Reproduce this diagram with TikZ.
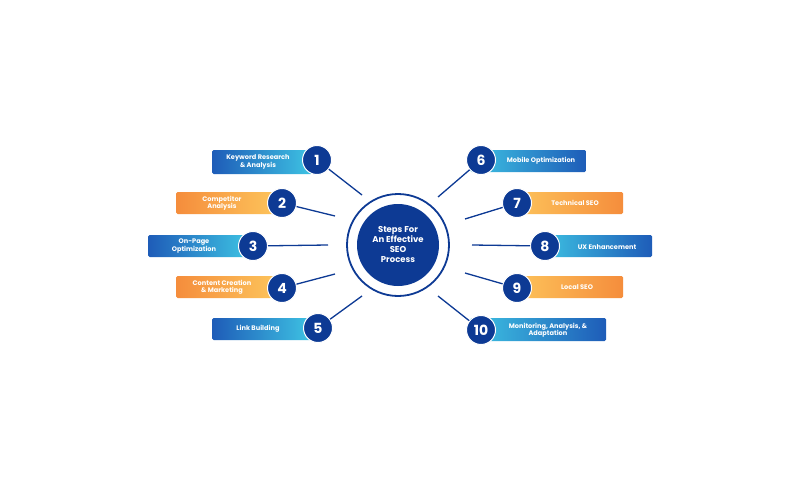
\documentclass[tikz,border=0pt]{standalone}
\usepackage{fontspec}
\setmainfont{Poppins}
\begin{document}
\begin{tikzpicture}[x=1pt,y=-1pt,
  bar/.style={rounded corners=1.5pt,inner sep=0pt,text=white,font=\bfseries\fontsize{6.6}{7.2}\selectfont,align=center},
  blueL/.style={bar,left color=blueD,right color=blueC},
  blueR/.style={bar,left color=blueC,right color=blueD},
  orL/.style={bar,left color=orD,right color=orC},
  orR/.style={bar,left color=orC,right color=orD},
  num/.style={circle,fill=navy,draw=white,line width=1pt,minimum size=29pt,inner sep=0pt,text=white,font=\bfseries\fontsize{14}{14}\selectfont},
  conn/.style={draw=navy,line width=1.3pt}]
\definecolor{navy}{HTML}{0D3A94}
\definecolor{blueD}{HTML}{1E5CB8}
\definecolor{blueC}{HTML}{3EC3E3}
\definecolor{orD}{HTML}{F58D3C}
\definecolor{orC}{HTML}{FDC65C}
\fill[white] (0,0) rectangle (800,500);
% center
\draw[navy,line width=1.8pt] (398,245) circle (51);
\node[circle,fill=navy,minimum size=82pt,inner sep=0pt,text=white,align=center,font=\bfseries\fontsize{8.5}{10}\selectfont] (c) at (398,245) {Steps For\\An Effective\\SEO\\Process};
% bars
\path[blueL] (212,150) rectangle (312,174); \node[text=white,font=\bfseries\fontsize{6.6}{7.2}\selectfont,align=center] (t1) at (258,162) {Keyword Research\\\& Analysis};
\path[orL] (176,192) rectangle (280,214); \node[text=white,font=\bfseries\fontsize{6.6}{7.2}\selectfont,align=center] (t2) at (222,203) {Competitor\\Analysis};
\path[blueL] (148,235) rectangle (250,257); \node[text=white,font=\bfseries\fontsize{6.6}{7.2}\selectfont,align=center] (t3) at (194,246) {On-Page\\Optimization};
\path[orL] (176,276) rectangle (280,298); \node[text=white,font=\bfseries\fontsize{6.6}{7.2}\selectfont,align=center] (t4) at (222,287) {Content Creation\\\& Marketing};
\path[blueL] (212,318) rectangle (312,340); \node[text=white,font=\bfseries\fontsize{6.6}{7.2}\selectfont,align=center] (t5) at (258,329) {Link Building};
\path[blueR] (470,150) rectangle (586,172); \node[text=white,font=\bfseries\fontsize{6.6}{7.2}\selectfont,align=center] (t6) at (541,161) {Mobile Optimization};
\path[orR] (510,192) rectangle (623,214); \node[text=white,font=\bfseries\fontsize{6.6}{7.2}\selectfont,align=center] (t7) at (575,203) {Technical SEO};
\path[blueR] (540,235) rectangle (652,257); \node[text=white,font=\bfseries\fontsize{6.6}{7.2}\selectfont,align=center] (t8) at (607,247) {UX Enhancement};
\path[orR] (510,276) rectangle (623,298); \node[text=white,font=\bfseries\fontsize{6.6}{7.2}\selectfont,align=center] (t9) at (577,287) {Local SEO};
\path[blueR] (470,318) rectangle (606,341); \node[text=white,font=\bfseries\fontsize{6.6}{7.2}\selectfont,align=center] (t10) at (548,330) {Monitoring, Analysis, \&\\Adaptation};
% end coordinates
\coordinate (e1) at (362,195); \coordinate (e2) at (335,216); \coordinate (e3) at (328,245);
\coordinate (e4) at (335,274); \coordinate (e5) at (362,296);
\coordinate (e6) at (438,197); \coordinate (e7) at (465,219); \coordinate (e8) at (472,245);
\coordinate (e9) at (465,273); \coordinate (e10) at (438,296);
% numbers
\node[num] (n1) at (317,160) {1};
\node[num] (n2) at (282,203) {2};
\node[num] (n3) at (253,246) {3};
\node[num] (n4) at (282,288) {4};
\node[num] (n5) at (318,328) {5};
\node[num] (n6) at (481,160) {6};
\node[num] (n7) at (517,203) {7};
\node[num] (n8) at (545,246) {8};
\node[num] (n9) at (517,288) {9};
\node[num] (n10) at (481,330) {10};
\foreach \i in {1,...,10} {\draw[conn] (n\i) -- (e\i);}
\end{tikzpicture}
\end{document}
